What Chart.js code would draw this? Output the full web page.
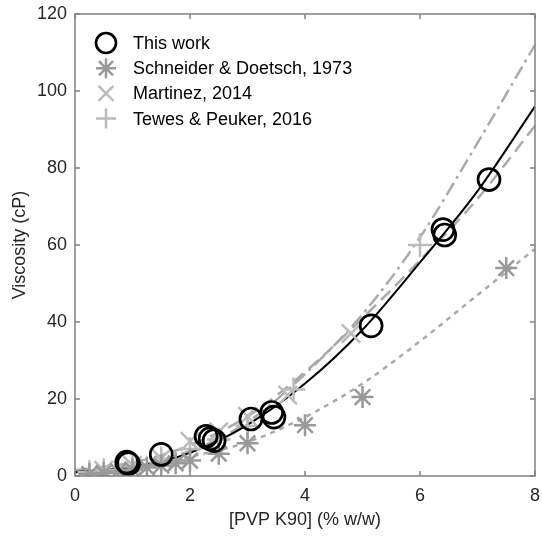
<!DOCTYPE html>
<html lang="en">
<head>
<meta charset="UTF-8">
<title>Viscosity vs PVP K90</title>
<script src="https://cdn.jsdelivr.net/npm/chart.js"></script>
<style>
  html, body { margin: 0; padding: 0; background: #fff; }
  #wrap { width: 542px; height: 537px; }
</style>
</head>
<body>
<div id="wrap"><canvas id="viscChart"></canvas></div>
<script>
const thisWorkX = [0.9, 0.93, 1.5, 2.28, 2.35, 2.42, 3.06, 3.42, 3.46, 5.15, 6.4, 6.43, 7.2];
const thisWorkY = [3.6, 3.2, 5.6, 10.3, 9.7, 9.2, 14.8, 16.5, 15.3, 39, 64, 62.6, 77];

const schneiderX = [0.25, 0.5, 0.75, 1, 1.25, 1.5, 1.75, 2, 2.5, 3, 4, 5, 7.5];
const schneiderY = [0.5, 0.8, 1.2, 1.7, 2.2, 2.7, 3.3, 4, 5.8, 8.5, 13.2, 20.5, 54];

const martinezX = [0.5, 1, 1.5, 2, 2.5, 3, 3.7, 4.8];
const martinezY = [1.5, 2.8, 4.5, 9, 11.5, 15.5, 21, 37];

const tewesX = [0.25, 0.5, 1, 1.5, 2, 2.5, 3, 3.8, 6];
const tewesY = [1, 1.5, 2.5, 4.5, 7, 9.5, 13, 22.5, 60];

// fitted curves, read at integer concentrations
const fitX = [0, 1, 2, 3, 4, 5, 6, 7, 8];
const fitThisWork = [1, 2.3, 6, 13.3, 24, 38, 55.5, 74, 96];
const fitSchneider = [1, 2.3, 5, 8.8, 15.3, 24, 35, 47, 59];
const fitMartinez = [1, 2.5, 6.5, 14, 26.5, 42, 62, 86.5, 112];
const fitTewes = [1.5, 3.5, 8, 15.5, 27, 41, 56, 72, 91];

const xTicks = [0, 2, 4, 6, 8];
const yTicks = [0, 20, 40, 60, 80, 100, 120];

const legendLabels = ['This work', 'Schneider & Doetsch, 1973', 'Martinez, 2014', 'Tewes & Peuker, 2016'];

const FONT = '"Liberation Sans", Arial, sans-serif';

function pts(xs, ys) {
    return xs.map((x, i) => ({ x: x, y: ys[i] }));
}

function drawMarker(ctx, style, x, y, r, color, lw) {
    ctx.save();
    ctx.strokeStyle = color;
    ctx.lineWidth = lw;
    ctx.beginPath();
    if (style === 'circle') {
        ctx.arc(x, y, r, 0, Math.PI * 2);
    }
    if (style === 'cross' || style === 'star') {
        ctx.moveTo(x - r, y); ctx.lineTo(x + r, y);
        ctx.moveTo(x, y - r); ctx.lineTo(x, y + r);
    }
    if (style === 'crossRot' || style === 'star') {
        const d = r * Math.SQRT1_2;
        ctx.moveTo(x - d, y - d); ctx.lineTo(x + d, y + d);
        ctx.moveTo(x - d, y + d); ctx.lineTo(x + d, y - d);
    }
    ctx.stroke();
    ctx.restore();
}

// box round the plot with inward ticks
const boxPlugin = {
    id: 'boxTicks',
    afterDatasetsDraw(chart) {
        const { ctx, chartArea: a, scales } = chart;
        ctx.save();
        ctx.strokeStyle = '#808080';
        ctx.lineWidth = 1.5;
        ctx.strokeRect(a.left, a.top, a.right - a.left, a.bottom - a.top);
        ctx.beginPath();
        const len = 5;
        xTicks.forEach(v => {
            const px = scales.x.getPixelForValue(v);
            ctx.moveTo(px, a.bottom); ctx.lineTo(px, a.bottom - len);
            ctx.moveTo(px, a.top); ctx.lineTo(px, a.top + len);
        });
        yTicks.forEach(v => {
            const py = scales.y.getPixelForValue(v);
            ctx.moveTo(a.left, py); ctx.lineTo(a.left + len, py);
            ctx.moveTo(a.right, py); ctx.lineTo(a.right - len, py);
        });
        ctx.stroke();
        ctx.restore();
    }
};

// legend inside the top-left corner
const legendPlugin = {
    id: 'insideLegend',
    afterDraw(chart) {
        const { ctx, chartArea: a } = chart;
        ctx.save();
        ctx.font = '18px ' + FONT;
        ctx.textBaseline = 'middle';
        ctx.textAlign = 'left';
        legendLabels.forEach((txt, i) => {
            const ds = chart.data.datasets[i];
            const y = a.top + 29 + i * 25.2;
            const r = ds.pointStyle === 'crossRot' ? 10.5 : 10;
            drawMarker(ctx, ds.pointStyle, a.left + 31, y, r, ds.borderColor, ds.borderWidth);
            ctx.fillStyle = '#000';
            ctx.fillText(txt, a.left + 58, y + 1);
        });
        ctx.restore();
    }
};

const fitLine = (data, dash) => ({
    data: pts(fitX, data),
    showLine: true,
    borderColor: '#aaaaaa',
    borderWidth: 2.5,
    borderDash: dash,
    pointRadius: 0,
    cubicInterpolationMode: 'monotone',
    fill: false
});

const ctx = document.getElementById('viscChart').getContext('2d');
const viscChart = new Chart(ctx, {
    type: 'scatter',
    data: {
        datasets: [
            {
                label: legendLabels[0],
                data: pts(thisWorkX, thisWorkY),
                pointStyle: 'circle',
                pointRadius: 11,
                borderColor: '#000000',
                backgroundColor: 'rgba(0,0,0,0)',
                borderWidth: 2.7
            },
            {
                label: legendLabels[1],
                data: pts(schneiderX, schneiderY),
                pointStyle: 'star',
                pointRadius: 11,
                borderColor: '#999999',
                backgroundColor: 'rgba(0,0,0,0)',
                borderWidth: 2.5
            },
            {
                label: legendLabels[2],
                data: pts(martinezX, martinezY),
                pointStyle: 'crossRot',
                pointRadius: 13,
                borderColor: '#bbbbbb',
                backgroundColor: 'rgba(0,0,0,0)',
                borderWidth: 2.5
            },
            {
                label: legendLabels[3],
                data: pts(tewesX, tewesY),
                pointStyle: 'cross',
                pointRadius: 12,
                borderColor: '#bbbbbb',
                backgroundColor: 'rgba(0,0,0,0)',
                borderWidth: 2.5
            },
            Object.assign(fitLine(fitThisWork, []), { borderColor: '#000000', borderWidth: 2 }),
            fitLine(fitSchneider, [5, 5]),
            fitLine(fitMartinez, [14, 5, 3, 5]),
            fitLine(fitTewes, [13, 7])
        ]
    },
    options: {
        responsive: true,
        maintainAspectRatio: false,
        devicePixelRatio: 1,
        animation: false,
        events: [],
        layout: { autoPadding: false, padding: { left: 0, right: 7, top: 14, bottom: 0 } },
        plugins: {
            legend: { display: false },
            tooltip: { enabled: false }
        },
        scales: {
            x: {
                type: 'linear',
                min: 0,
                max: 8,
                grid: { display: false, drawTicks: false },
                border: { display: false },
                ticks: {
                    stepSize: 2,
                    padding: 9,
                    color: '#262626',
                    font: { family: FONT, size: 18 }
                },
                title: {
                    display: true,
                    text: '[PVP K90] (% w/w)',
                    color: '#262626',
                    font: { family: FONT, size: 18 },
                    padding: { top: 0, bottom: 6 }
                },
                afterFit: s => {
                    s.height = 61;
                    s.paddingLeft = 0;
                    s.paddingRight = 0;
                }
            },
            y: {
                min: 0,
                max: 120,
                grid: { display: false, drawTicks: false },
                border: { display: false },
                ticks: {
                    stepSize: 20,
                    padding: 8,
                    color: '#262626',
                    font: { family: FONT, size: 18 }
                },
                title: {
                    display: true,
                    text: 'Viscosity (cP)',
                    color: '#262626',
                    font: { family: FONT, size: 18 },
                    padding: { top: 9, bottom: 0 }
                },
                afterFit: s => {
                    s.width = 75;
                    s.paddingTop = 0;
                    s.paddingBottom = 0;
                }
            }
        }
    },
    plugins: [boxPlugin, legendPlugin]
});
</script>
</body>
</html>
